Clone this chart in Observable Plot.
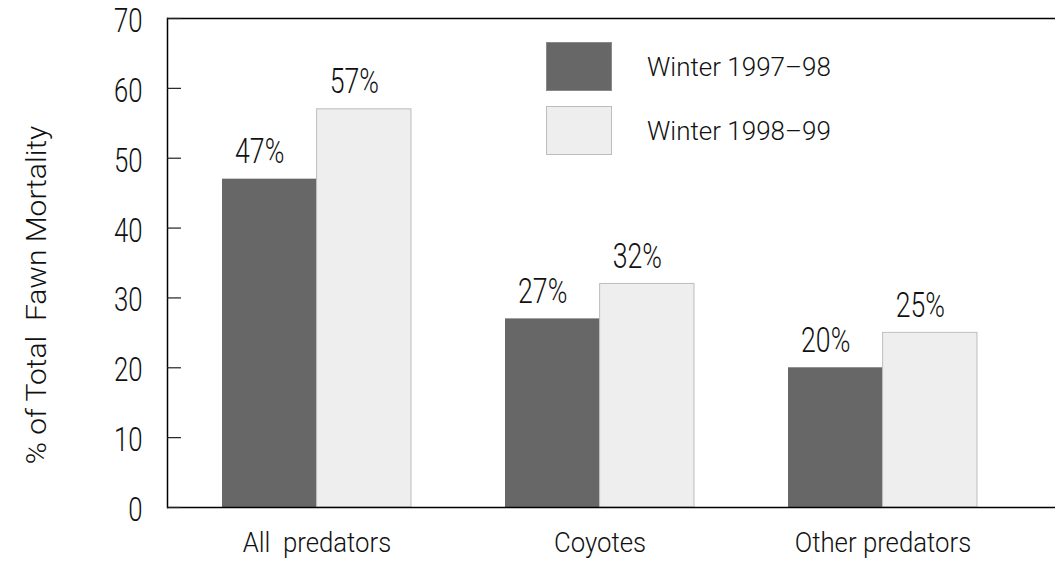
<!DOCTYPE html>
<html>
<head>
<meta charset="utf-8">
<script src="https://cdn.jsdelivr.net/npm/d3@7"></script>
<script src="https://cdn.jsdelivr.net/npm/@observablehq/plot@0.6"></script>
<style>
  html, body { margin: 0; padding: 0; background: #fff; overflow: hidden; }
  #wrap { position: relative; width: 1055px; height: 561px; }
  #wrap svg text { font-weight: 300; }
  .legend { position: absolute; left: 546px; top: 42px; font-family: Roboto, 'Liberation Sans', sans-serif; font-weight: 300; font-size: 26px; color: #111; }
  .legend .item { position: absolute; left: 0; width: 320px; height: 50px; }
  .legend .sw { position: absolute; left: 0; top: 0; width: 66px; height: 49px; box-sizing: border-box; }
  .legend .lab { position: absolute; left: 101px; top: 8px; white-space: pre; line-height: 34px; }
</style>
</head>
<body>
<div id="wrap"></div>
<script>
const categories = ["All\u00a0\u00a0predators", "Coyotes", "Other predators"];
const seriesNames = ["Winter 1997\u201398", "Winter 1998\u201399"];
const winter9798 = [47, 27, 20];
const winter9899 = [57, 32, 25];
const yTicks = [0, 10, 20, 30, 40, 50, 60, 70];
const yLabel = "% of Total\u00a0\u00a0Fawn Mortality";
const colors = ["#676767", "#eeeeee"];
const strokes = ["#8a8a8a", "#bdbdbd"];

const rows0 = categories.map((c, i) => ({category: c, series: seriesNames[0], value: winter9798[i]}));
const rows1 = categories.map((c, i) => ({category: c, series: seriesNames[1], value: winter9899[i]}));

const half = 94.6;
const font = "Roboto, 'Liberation Sans', sans-serif";

const chart = Plot.plot({
  width: 1055,
  height: 561,
  marginLeft: 167,
  marginRight: 0,
  marginTop: 18,
  marginBottom: 54,
  style: {fontFamily: font, fontSize: "33px", color: "#111", background: "white"},
  x: {domain: categories, paddingInner: 0.333, paddingOuter: 0, insetLeft: 54, insetRight: 77, axis: null},
  y: {domain: [0, 70], axis: null},
  marks: [
    Plot.barY(rows0, {x: "category", y: "value", fill: colors[0], insetRight: half}),
    Plot.barY(rows1, {x: "category", y: "value", fill: colors[1], stroke: strokes[1], strokeWidth: 1, insetLeft: half}),
    Plot.ruleY([0, 70], {stroke: "#000", strokeWidth: 1.5}),
    Plot.frame({anchor: "left", stroke: "#000", strokeWidth: 1.5}),
    Plot.axisY(yTicks, {tickSize: -14, tickFormat: () => "", label: null, stroke: "#222", strokeWidth: 1.2}),
    Plot.axisY(yTicks, {tickSize: 0, tickPadding: 25, fontSize: 33, dy: 3, label: null}),
    Plot.axisX({tickSize: 0, tickPadding: 25, fontSize: 28, label: null}),
    Plot.text(rows0, {x: "category", y: "value", text: d => d.value + "%", dx: -half / 2 - 10, dy: -16, lineAnchor: "bottom", fontSize: 35}),
    Plot.text(rows1, {x: "category", y: "value", text: d => d.value + "%", dx: half / 2 - 10, dy: -16, lineAnchor: "bottom", fontSize: 35}),
    Plot.text([yLabel], {text: d => d, frameAnchor: "left", textAnchor: "middle", rotate: -90, dx: -130, dy: 32, fontSize: 28})
  ]
});

const wrap = document.getElementById("wrap");
wrap.appendChild(chart);

// narrow or widen the glyphs to mimic the lettering of the original
function squeeze(nodes, s) {
  nodes.forEach(node => {
    const w = node.getComputedTextLength();
    if (!w) return;
    node.setAttribute("textLength", (w * s).toFixed(1));
    node.setAttribute("lengthAdjust", "spacingAndGlyphs");
  });
}
const allText = Array.from(chart.querySelectorAll("text"));
const inGroup = (node, label) => node.closest("g") && node.closest("g").getAttribute("aria-label") === label;
squeeze(allText.filter(n => inGroup(n, "y-axis tick label")), 0.78);
squeeze(allText.filter(n => inGroup(n, "x-axis tick label")), 0.92);
squeeze(allText.filter(n => /^\d+%$/.test(n.textContent)), 0.76);
squeeze(allText.filter(n => n.textContent === yLabel), 1.07);

const legend = document.createElement("div");
legend.className = "legend";
seriesNames.forEach((name, i) => {
  const item = document.createElement("div");
  item.className = "item";
  item.style.top = (i * 64) + "px";
  const sw = document.createElement("div");
  sw.className = "sw";
  sw.style.background = colors[i];
  sw.style.border = "1px solid " + strokes[i];
  const lab = document.createElement("div");
  lab.className = "lab";
  lab.textContent = name;
  item.appendChild(sw);
  item.appendChild(lab);
  legend.appendChild(item);
});
wrap.appendChild(legend);
</script>
</body>
</html>
